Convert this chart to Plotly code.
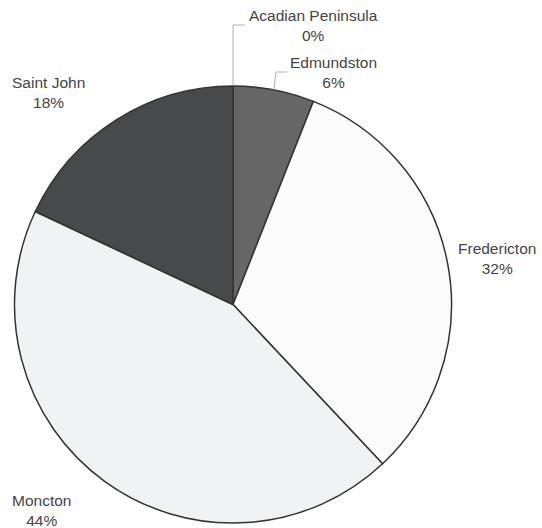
import math
import plotly.graph_objects as go

labels = ["Acadian Peninsula", "Edmundston", "Fredericton", "Moncton", "Saint John"]
values = [0, 6, 32, 44, 18]
colors = ["#7a7a7a", "#666666", "#fbfbfb", "#f1f2f4", "#48494b"]
pct_text = ["0%", "6%", "32%", "44%", "18%"]

W, H = 542, 528
cx, cy, R = 233, 304.5, 218.5

# label text positions (pixels) - layout only
label_pos = {
    "Acadian Peninsula": (313, 26),
    "Edmundston": (333, 72),
    "Fredericton": (497, 258),
    "Moncton": (41, 510),
    "Saint John": (48, 92),
}
leader = {"Acadian Peninsula": (245, 25), "Edmundston": (287, 72)}

fig = go.Figure(go.Pie(
    labels=labels, values=values, sort=False, direction="clockwise", rotation=0,
    marker=dict(colors=colors, line=dict(color="#333333", width=1.5)),
    textinfo="none", hoverinfo="label+percent", showlegend=False,
    domain=dict(x=[(cx - R) / W, (cx + R) / W], y=[1 - (cy + R) / H, 1 - (cy - R) / H]),
))

def px2paper(x, y):
    return x / W, 1 - y / H

total = sum(values)
cum = 0
annotations = []
shapes = []
for lab, v, p in zip(labels, values, pct_text):
    mid = (cum + v / 2) / total * 2 * math.pi
    cum += v
    tx, ty = label_pos[lab]
    ax_, ay_ = px2paper(tx, ty)
    annotations.append(dict(x=ax_, y=ay_, xref="paper", yref="paper", showarrow=False,
                            xanchor="center", yanchor="middle",
                            text=f"{lab}<br>{p}", align="center",
                            font=dict(family="Liberation Sans, Arial", size=15.5, color="#444444")))
    if lab in leader:
        sx = cx + R * math.sin(mid)
        sy = cy - R * math.cos(mid)
        ex, ey = leader[lab]
        pts = [(sx, sy), (sx if lab == "Acadian Peninsula" else sx + 2, ey), (ex, ey)]
        path = "M " + " L ".join(f"{px2paper(x, y)[0]},{px2paper(x, y)[1]}" for x, y in pts)
        shapes.append(dict(type="path", xref="paper", yref="paper", path=path,
                           line=dict(color="#b0b0b0", width=1)))

fig.update_layout(width=W, height=H, margin=dict(l=0, r=0, t=0, b=0),
                  paper_bgcolor="white", plot_bgcolor="white",
                  annotations=annotations, shapes=shapes)
fig.write_html("out.html", config={"displayModeBar": False},
               post_script="document.body.style.margin='0';document.body.style.overflow='hidden';")
